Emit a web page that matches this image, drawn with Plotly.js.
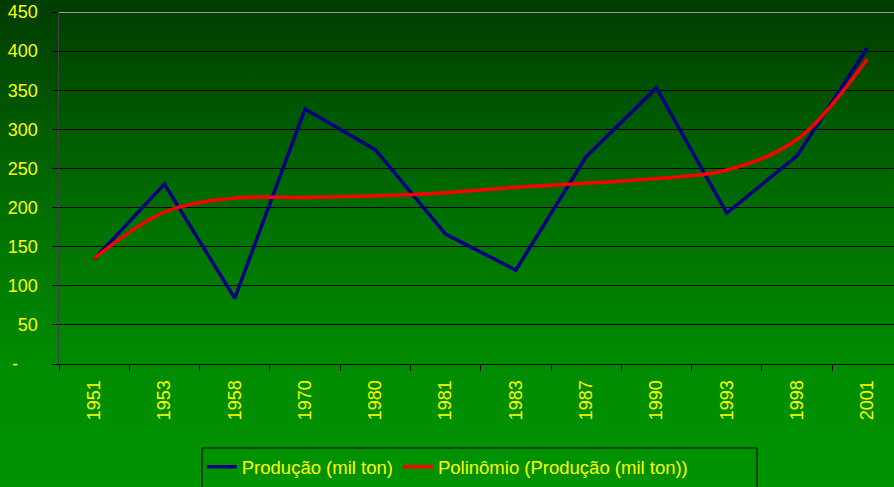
<!DOCTYPE html>
<html><head><meta charset="utf-8">
<script src="https://cdn.plot.ly/plotly-3.0.1.min.js"></script>
<style>
html,body{margin:0;padding:0;}
body{width:894px;height:487px;background:linear-gradient(to bottom,#003c00 0%,#005a00 25%,#007000 45%,#008c00 75%,#009300 100%);overflow:hidden;}
#chart{width:894px;height:487px;}
</style></head><body>
<div id="chart"></div>
<script>
const years = ['1951','1953','1958','1970','1980','1981','1983','1987','1990','1993','1998','2001'];
const producao = [134, 230, 84, 326, 274, 166, 120, 265, 353, 193, 266, 404];
const polinomio = [135, 194, 212, 213, 215, 219, 226, 231, 237, 248, 287, 390];
const yTicks = [0, 50, 100, 150, 200, 250, 300, 350, 400, 450];
const yTickText = ['-\u00a0\u00a0\u00a0\u00a0', '50', '100', '150', '200', '250', '300', '350', '400', '450'];

const fam = '"Liberation Sans", Arial, sans-serif';
const data = [
  {x: years, y: producao, type: 'scatter', mode: 'lines', name: 'Produção (mil ton)',
   line: {color: '#000080', width: 3.5}},
  {x: years, y: polinomio, type: 'scatter', mode: 'lines', name: 'Polinômio (Produção (mil ton))',
   line: {color: '#ff0000', width: 3.5, shape: 'spline', smoothing: 1}}
];
const layout = {
  width: 894, height: 487,
  paper_bgcolor: 'rgba(0,0,0,0)', plot_bgcolor: 'rgba(0,0,0,0)',
  margin: {l: 59, r: 0, t: 12, b: 123, autoexpand: false},
  font: {family: fam, color: '#ffff00'},
  showlegend: true,
  xaxis: {type: 'category', range: [-0.5, 11.38], tickangle: -90, automargin: false,
    tickfont: {size: 18, color: '#ffff00', family: fam},
    ticks: 'outside', tickson: 'boundaries', ticklen: 6, tickcolor: '#000000',
    ticklabelstandoff: 8,
    showgrid: false, showline: true, linecolor: '#000000', linewidth: 1, zeroline: false},
  yaxis: {range: [0, 450], tickvals: yTicks, ticktext: yTickText, automargin: false,
    tickfont: {size: 18, color: '#ffff00', family: fam},
    ticks: 'outside', ticklen: 6, tickcolor: '#000000',
    ticklabelstandoff: 10,
    showgrid: true, gridcolor: '#000000', gridwidth: 1,
    showline: true, linecolor: '#404040', linewidth: 1.5, zeroline: false},
  legend: {orientation: 'h', x: 0.171, xanchor: 'left', y: -0.239, yanchor: 'top',
    bgcolor: 'rgba(0,0,0,0)', borderwidth: 0,
    itemwidth: 30, itemgap: 4,
    font: {size: 18.5, color: '#ffff00', family: fam}},
  shapes: [
    {type: 'line', xref: 'paper', yref: 'y', x0: 0, x1: 1, y0: 450, y1: 450,
     line: {color: '#9a9a9a', width: 2}},
    {type: 'rect', xref: 'paper', yref: 'paper', x0: 0.1713, x1: 0.836, y0: -0.2386, y1: -0.45,
     line: {color: '#000000', width: 1}, fillcolor: 'rgba(0,0,0,0)'}
  ]
};
Plotly.newPlot('chart', data, layout, {displayModeBar: false, staticPlot: true});
</script>
</body></html>
